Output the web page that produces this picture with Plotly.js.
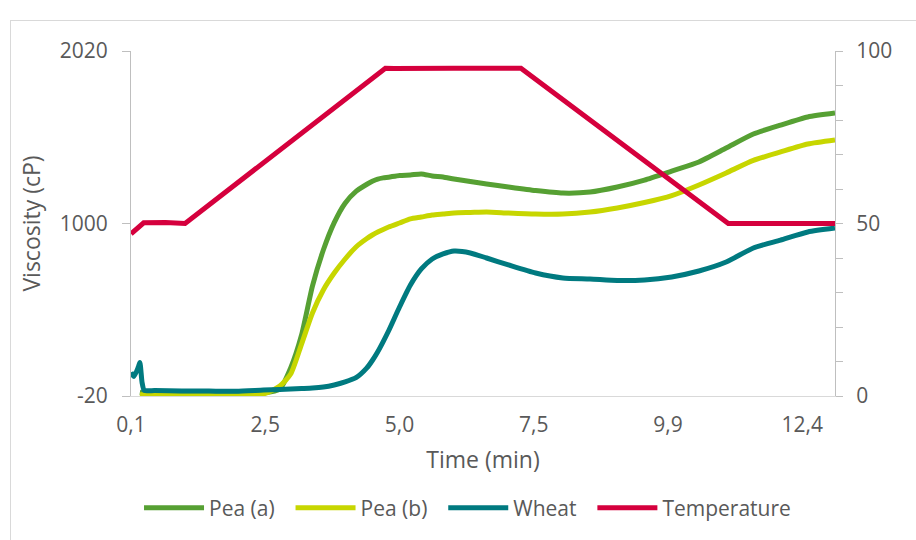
<!DOCTYPE html>
<html>
<head>
<meta charset="utf-8">
<script src="https://cdn.plot.ly/plotly-3.0.1.min.js"></script>
<style>
  html, body { margin:0; padding:0; background:#fff; overflow:hidden; }
  #wrap { position:relative; width:916px; height:540px; }
  #chart { position:absolute; left:0; top:0; width:916px; height:540px; }
  #frame { position:absolute; left:10px; top:20px; width:1000px; height:1000px; border:1px solid #d9d9d9; pointer-events:none; }
</style>
</head>
<body>
<div id="wrap"><div id="chart"></div><div id="frame"></div></div>
<script>
// Time (min) for viscosity series
const time = [0.067, 0.12, 0.2, 0.23, 0.27, 0.31, 0.5, 1.0, 1.5, 2.0, 2.5, 2.8, 3.0, 3.2, 3.4, 3.6, 3.8, 4.0, 4.2, 4.4, 4.5, 4.6, 4.7, 4.8, 5.0, 5.2, 5.4, 5.6, 5.8, 6.0, 6.3, 6.6, 7.0, 7.5, 8.0, 8.5, 9.0, 9.5, 10.0, 10.5, 11.0, 11.5, 12.0, 12.5, 13.0];
// Viscosity (cP)
const peaA = [null, null, null, 2, 0, -2, -4, -6, -7, -6, -2, 21, 146, 341, 630, 843, 1005, 1120, 1190, 1232, 1250, 1263, 1270, 1274, 1284, 1287, 1293, 1281, 1275, 1263, 1248, 1234, 1216, 1195, 1180, 1186, 1216, 1257, 1310, 1364, 1446, 1529, 1582, 1630, 1653];
const peaB = [null, null, null, -12, -13, -14, -16, -18, -19, -18, -8, 39, 110, 287, 471, 607, 707, 790, 861, 911, 932, 950, 965, 979, 1003, 1027, 1038, 1050, 1056, 1062, 1065, 1068, 1062, 1056, 1056, 1068, 1092, 1124, 1165, 1228, 1299, 1373, 1423, 1470, 1494];
const wheat = [120, 95, 150, 178, 60, 14, 12, 10, 9, 8, 15, 18, 21, 24, 27, 33, 45, 63, 88, 146, 190, 242, 302, 366, 506, 636, 731, 790, 820, 837, 826, 796, 755, 707, 678, 672, 663, 666, 684, 719, 772, 855, 902, 950, 973];
// Temperature (right axis)
const tempTime = [0.067, 0.2, 0.3, 0.7, 1.06, 4.74, 4.9, 6.0, 7.23, 11.04, 12.0, 13.0];
const temperature = [47.0, 49.0, 50.2, 50.3, 50.0, 95.0, 94.9, 95.0, 95.0, 50.0, 50.1, 50.0];
// Category-style tick labels
const tickPos = [0.0667, 2.5333, 5.0, 7.4667, 9.9333, 12.4];
const tickText = ['0,1', '2,5', '5,0', '7,5', '9,9', '12,4'];
const leftTicks = [-20, 1000, 2020];
const leftTickText = ['-20', '1000', '2020'];
const seriesNames = ['Pea (a)', 'Pea (b)', 'Wheat', 'Temperature'];

const pad = '\u00a0\u00a0';
const lw = 5;
const traces = [
  {x: time, y: peaA, name: seriesNames[0] + pad, type: 'scatter', mode: 'lines', line: {color: '#56A033', width: lw, shape: 'spline', smoothing: 0.6}},
  {x: time, y: peaB, name: seriesNames[1] + pad, type: 'scatter', mode: 'lines', line: {color: '#C7D600', width: lw, shape: 'spline', smoothing: 0.6}},
  {x: time, y: wheat, name: seriesNames[2] + pad, type: 'scatter', mode: 'lines', line: {color: '#007A80', width: lw, shape: 'spline', smoothing: 0.6}},
  {x: tempTime, y: temperature, name: seriesNames[3], type: 'scatter', mode: 'lines', yaxis: 'y2', line: {color: '#D5003D', width: lw}}
];

const axisGray = '#bfbfbf';
const layout = {
  width: 916, height: 540,
  margin: {l: 131, r: 81, t: 51, b: 144, autoexpand: false},
  paper_bgcolor: '#fff', plot_bgcolor: '#fff',
  font: {family: 'Open Sans', color: '#595959', size: 21},
  showlegend: true,
  legend: {orientation: 'h', x: 0.0114, xanchor: 'left', y: -0.325, yanchor: 'middle',
           font: {size: 21, color: '#595959'}, itemwidth: 60, traceorder: 'normal'},
  xaxis: {range: [0.0667, 13.0], tickmode: 'array', tickvals: tickPos, ticktext: tickText,
          showline: true, linecolor: '#d9d9d9', linewidth: 1, ticks: '', showgrid: false, zeroline: false,
          ticklabelstandoff: 10,
          title: {text: 'Time (min)', font: {size: 23}, standoff: 14}},
  yaxis: {range: [-20, 2020], tickmode: 'array', tickvals: leftTicks, ticktext: leftTickText, ticks: 'outside', ticklen: 8, tickcolor: axisGray,
          showline: true, linecolor: axisGray, linewidth: 1, showgrid: false, zeroline: false,
          ticklabelstandoff: 10,
          title: {text: 'Viscosity (cP)', font: {size: 23}, standoff: 12}},
  yaxis2: {overlaying: 'y', side: 'right', range: [0, 100], tickmode: 'linear', tick0: 0, dtick: 50,
           ticks: 'outside', ticklen: 7, tickcolor: axisGray,
           minor: {dtick: 10, ticks: 'outside', ticklen: 7, tickcolor: axisGray},
           showline: true, linecolor: axisGray, linewidth: 1, showgrid: false, zeroline: false,
           ticklabelstandoff: 9},
  yaxis3: {overlaying: 'y', side: 'left', range: [-20, 2020], tickmode: 'array', tickvals: leftTicks,
           ticks: 'inside', ticklen: 7, tickcolor: axisGray, showticklabels: false, showline: false, showgrid: false, zeroline: false},
  yaxis4: {overlaying: 'y', side: 'right', range: [0, 100], tickmode: 'linear', tick0: 0, dtick: 50,
           ticks: 'inside', ticklen: 7, tickcolor: axisGray,
           minor: {dtick: 10, ticks: 'inside', ticklen: 7, tickcolor: axisGray},
           showticklabels: false, showline: false, showgrid: false, zeroline: false}
};

Plotly.newPlot('chart', traces, layout, {displayModeBar: false, staticPlot: true});
</script>
</body>
</html>
